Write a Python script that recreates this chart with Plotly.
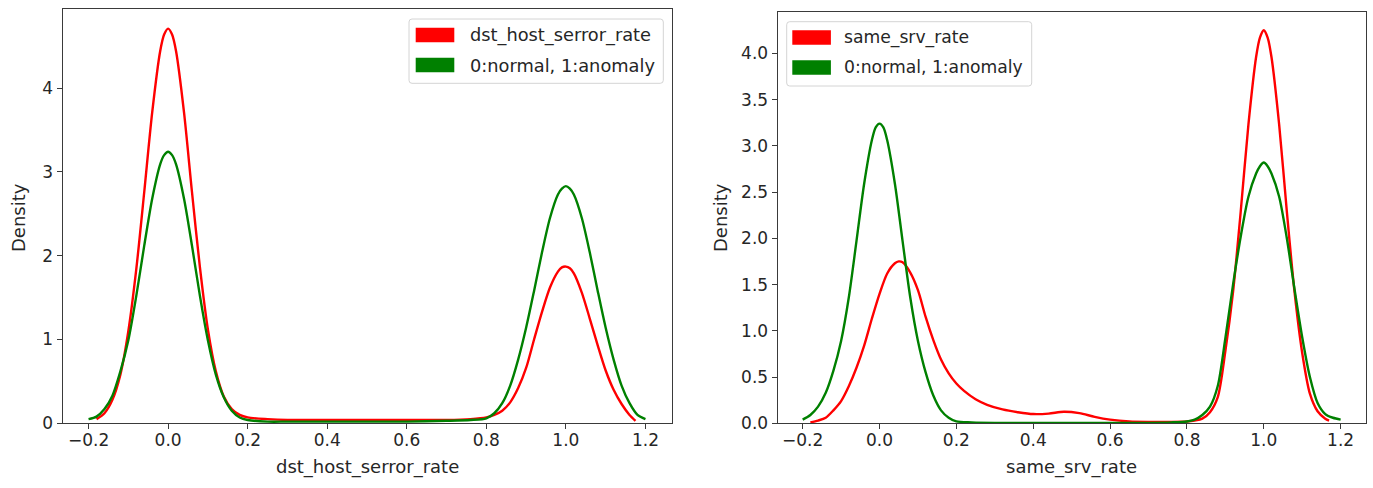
import plotly.graph_objects as go

# ---------------- data ----------------
x_ticks = [-0.2, 0.0, 0.2, 0.4, 0.6, 0.8, 1.0, 1.2]
left_y_ticks = [0, 1, 2, 3, 4]
right_y_ticks = [0.0, 0.5, 1.0, 1.5, 2.0, 2.5, 3.0, 3.5, 4.0]

left_feature = "dst_host_serror_rate"
right_feature = "same_srv_rate"
target_label = "0:normal, 1:anomaly"
y_label = "Density"

left_red_x = [-0.18, -0.16, -0.14, -0.12, -0.10, -0.08, -0.06, -0.04, -0.02, -0.01,
              0.00, 0.01, 0.02, 0.04, 0.06, 0.08, 0.10, 0.12, 0.14, 0.16,
              0.18, 0.20, 0.25, 0.30, 0.40, 0.50, 0.60, 0.70, 0.76, 0.80,
              0.82, 0.84, 0.86, 0.88, 0.90, 0.92, 0.94, 0.96, 0.98, 0.99,
              1.00, 1.01, 1.02, 1.04, 1.06, 1.08, 1.10, 1.12, 1.14, 1.16, 1.175]
left_red_y = [0.05, 0.12, 0.28, 0.58, 1.10, 1.84, 2.76, 3.71, 4.44, 4.64,
              4.71, 4.64, 4.44, 3.71, 2.76, 1.86, 1.12, 0.62, 0.32, 0.17,
              0.10, 0.07, 0.05, 0.04, 0.04, 0.04, 0.04, 0.04, 0.05, 0.07,
              0.10, 0.15, 0.25, 0.42, 0.66, 1.00, 1.33, 1.62, 1.81, 1.86,
              1.87, 1.85, 1.79, 1.56, 1.25, 0.93, 0.63, 0.40, 0.23, 0.10, 0.03]

left_green_x = [-0.20, -0.18, -0.16, -0.14, -0.12, -0.10, -0.08, -0.06, -0.04, -0.02,
                -0.01, 0.00, 0.01, 0.02, 0.04, 0.06, 0.08, 0.10, 0.12, 0.14,
                0.16, 0.18, 0.20, 0.25, 0.30, 0.40, 0.50, 0.60, 0.70, 0.76,
                0.80, 0.82, 0.84, 0.86, 0.88, 0.90, 0.92, 0.94, 0.96, 0.98,
                0.99, 1.00, 1.01, 1.02, 1.04, 1.06, 1.08, 1.10, 1.12, 1.14,
                1.16, 1.18, 1.20]
left_green_y = [0.05, 0.08, 0.17, 0.33, 0.62, 0.99, 1.52, 2.12, 2.68, 3.09,
                3.20, 3.24, 3.20, 3.09, 2.68, 2.12, 1.52, 0.99, 0.58, 0.31,
                0.15, 0.07, 0.04, 0.02, 0.02, 0.02, 0.02, 0.02, 0.03, 0.04,
                0.06, 0.12, 0.24, 0.45, 0.76, 1.14, 1.58, 2.04, 2.45, 2.73,
                2.80, 2.83, 2.80, 2.73, 2.45, 2.04, 1.58, 1.14, 0.76, 0.45,
                0.24, 0.10, 0.05]

right_red_x = [-0.18, -0.16, -0.14, -0.12, -0.10, -0.08, -0.06, -0.04, -0.02, 0.00,
               0.02, 0.04, 0.05, 0.06, 0.08, 0.10, 0.12, 0.14, 0.16, 0.18,
               0.20, 0.22, 0.25, 0.28, 0.32, 0.36, 0.40, 0.44, 0.48, 0.52,
               0.56, 0.60, 0.65, 0.70, 0.76, 0.80, 0.82, 0.84, 0.86, 0.88,
               0.90, 0.92, 0.94, 0.96, 0.98, 0.99, 1.00, 1.01, 1.02, 1.04,
               1.06, 1.08, 1.10, 1.12, 1.14, 1.16, 1.17]
right_red_y = [0.01, 0.03, 0.06, 0.14, 0.24, 0.40, 0.60, 0.84, 1.13, 1.40,
               1.62, 1.73, 1.75, 1.74, 1.63, 1.44, 1.15, 0.90, 0.69, 0.54,
               0.43, 0.35, 0.26, 0.20, 0.15, 0.12, 0.10, 0.105, 0.125, 0.11,
               0.07, 0.04, 0.02, 0.015, 0.015, 0.02, 0.03, 0.05, 0.12, 0.28,
               0.78, 1.42, 2.29, 3.23, 3.96, 4.17, 4.25, 4.17, 3.96, 3.23,
               2.29, 1.42, 0.76, 0.32, 0.13, 0.05, 0.03]

right_green_x = [-0.20, -0.18, -0.16, -0.14, -0.12, -0.10, -0.08, -0.06, -0.04, -0.02,
                 -0.01, 0.00, 0.01, 0.02, 0.04, 0.06, 0.08, 0.10, 0.12, 0.14,
                 0.16, 0.18, 0.20, 0.24, 0.30, 0.40, 0.50, 0.60, 0.70, 0.76,
                 0.80, 0.82, 0.84, 0.86, 0.88, 0.90, 0.92, 0.94, 0.96, 0.98,
                 0.99, 1.00, 1.01, 1.02, 1.04, 1.06, 1.08, 1.10, 1.12, 1.14,
                 1.16, 1.18, 1.20]
right_green_y = [0.04, 0.09, 0.18, 0.33, 0.57, 0.89, 1.36, 1.97, 2.59, 3.06,
                 3.20, 3.24, 3.20, 3.06, 2.59, 1.97, 1.36, 0.89, 0.55, 0.30,
                 0.14, 0.06, 0.02, 0.01, 0.005, 0.005, 0.005, 0.005, 0.005, 0.01,
                 0.02, 0.04, 0.09, 0.18, 0.40, 0.92, 1.50, 2.02, 2.45, 2.70,
                 2.78, 2.82, 2.78, 2.70, 2.45, 2.00, 1.45, 0.93, 0.50, 0.22,
                 0.10, 0.06, 0.04]

# ---------------- style ----------------
RED = "#ff0000"
GREEN = "#008000"
FONT = "DejaVu Sans"
TXT = "#262626"
AX = "#3a3a3a"
W, H = 1373, 488

fig = go.Figure()

def curve(x, y, color, xa, ya, name):
    fig.add_trace(go.Scatter(x=x, y=y, mode="lines", name=name,
                             line=dict(color=color, width=2.4, shape="spline", smoothing=0.8),
                             xaxis=xa, yaxis=ya, showlegend=False, hoverinfo="skip"))

curve(left_red_x, left_red_y, RED, "x", "y", left_feature)
curve(left_green_x, left_green_y, GREEN, "x", "y", target_label)
curve(right_red_x, right_red_y, RED, "x2", "y2", right_feature)
curve(right_green_x, right_green_y, GREEN, "x2", "y2", target_label)

axis_common = dict(showline=True, linecolor=AX, linewidth=1.3, mirror=True,
                   ticks="outside", ticklen=5, tickwidth=1.3, tickcolor=AX,
                   showgrid=False, zeroline=False,
                   tickfont=dict(family=FONT, size=17, color=TXT),
                   automargin=False)

x_range = [-0.265, 1.266]

fig.update_layout(
    width=W, height=H,
    margin=dict(l=0, r=0, t=0, b=0),
    paper_bgcolor="white", plot_bgcolor="white",
    showlegend=False,
    xaxis=dict(domain=[62.7 / W, 671.7 / W], range=x_range, tickvals=x_ticks,
               tickformat=".1f", anchor="y", ticklabelstandoff=-4, **axis_common),
    yaxis=dict(domain=[1 - 423.3 / H, 1 - 9.3 / H], range=[0, 4.94], tickvals=left_y_ticks,
               anchor="x", **axis_common),
    xaxis2=dict(domain=[777.7 / W, 1366 / W], range=x_range, tickvals=x_ticks,
                tickformat=".1f", anchor="y2", ticklabelstandoff=-4, **axis_common),
    yaxis2=dict(domain=[1 - 423.3 / H, 1 - 11.7 / H], range=[0, 4.45], tickvals=right_y_ticks,
                tickformat=".1f", anchor="x2", **axis_common),
)

# ---------------- axis titles ----------------
def px_text(text, x, y, size=18, angle=0, xanchor="center"):
    fig.add_annotation(text=text, x=x / W, y=1 - y / H, xref="paper", yref="paper",
                       xanchor=xanchor, yanchor="middle", showarrow=False, textangle=angle,
                       font=dict(family=FONT, size=size, color=TXT))

px_text(left_feature, (62.7 + 671.7) / 2, 467)
px_text(right_feature, (777.7 + 1366) / 2, 467)
px_text(y_label, 18, 218, angle=-90)
px_text(y_label, 720, 218, angle=-90)

# ---------------- legends (matplotlib-style patches) ----------------
def rounded_box(x0, y0, x1, y1, r=3):
    rx, ry = r / W, r / H
    X0, X1 = x0 / W, x1 / W
    Y0, Y1 = 1 - y0 / H, 1 - y1 / H  # Y0 top, Y1 bottom
    path = (f"M{X0 + rx},{Y0} L{X1 - rx},{Y0} Q{X1},{Y0} {X1},{Y0 - ry} "
            f"L{X1},{Y1 + ry} Q{X1},{Y1} {X1 - rx},{Y1} L{X0 + rx},{Y1} "
            f"Q{X0},{Y1} {X0},{Y1 + ry} L{X0},{Y0 - ry} Q{X0},{Y0} {X0 + rx},{Y0} Z")
    fig.add_shape(type="path", path=path, xref="paper", yref="paper",
                  line=dict(color="#d4d4d4", width=1), fillcolor="rgba(255,255,255,0.8)",
                  layer="above")

def patch(x0, y0, x1, y1, color):
    fig.add_shape(type="rect", x0=x0 / W, x1=x1 / W, y0=1 - y0 / H, y1=1 - y1 / H,
                  xref="paper", yref="paper", line=dict(width=0), fillcolor=color,
                  layer="above")

# left legend
rounded_box(409, 19, 663.3, 83.3)
patch(415.7, 27.7, 454.3, 42.3, RED)
patch(415.7, 57.7, 454.3, 72.3, GREEN)
px_text(left_feature, 468.3, 35, size=17.8, xanchor="left")
px_text(target_label, 468.3, 65, size=17.8, xanchor="left")
# right legend
rounded_box(786.7, 21.7, 1031.7, 86)
patch(792.3, 30.2, 830.9, 44.8, RED)
patch(792.3, 60.2, 830.9, 74.8, GREEN)
px_text(right_feature, 842.5, 37.5, size=17.2, xanchor="left")
px_text(target_label, 842.5, 67.5, size=17.2, xanchor="left")

fig.write_html("out.html")
